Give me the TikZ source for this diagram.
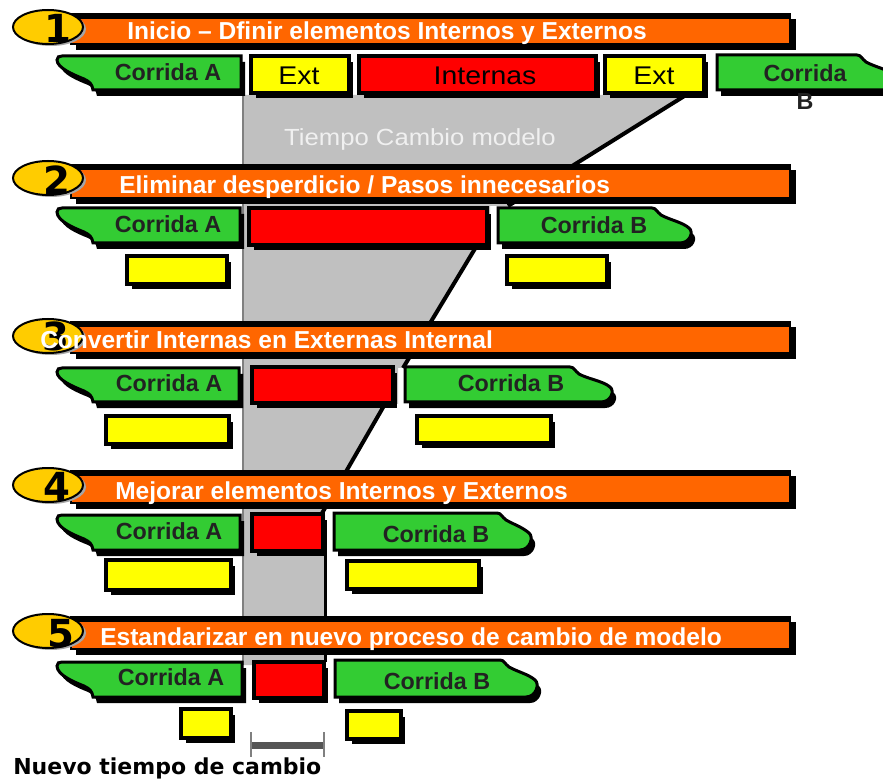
\documentclass[tikz,border=0pt]{standalone}
\usepackage{fontspec}
\setmainfont{Liberation Sans}
\newfontfamily\dvs{DejaVu Sans}
\definecolor{org}{HTML}{FF6600}
\definecolor{grn}{HTML}{33CC33}
\definecolor{yel}{HTML}{FFFF00}
\definecolor{rd}{HTML}{FF0000}
\definecolor{gld}{HTML}{FFCC00}
\definecolor{gry}{HTML}{C0C0C0}
\definecolor{gedge}{HTML}{808080}
\definecolor{txtd}{HTML}{222222}
\definecolor{brk}{HTML}{555555}
\tikzset{
 ttl/.style={anchor=base west, text=white, font=\fontsize{18.4}{22}\selectfont\bfseries, inner sep=0pt},
 cor/.style={anchor=base, text=txtd, font=\fontsize{17.5}{21}\selectfont\bfseries, inner sep=0pt},
 extt/.style={anchor=base, text=black, font=\fontsize{19.2}{23}\selectfont, inner sep=0pt},
 num/.style={anchor=base, text=black, font=\dvs\fontsize{29}{30}\selectfont\bfseries, inner sep=0pt},
 badge/.style={fill=gld, draw=black, line width=1.5pt},
 outl/.style={draw=black, line width=2.25pt},
 diag/.style={black, line width=3pt},
}
% Corrida A path: right, top, bottom
\newcommand\dgcorApath[3]{(62,#2) -- (#1,#2) -- (#1,#3) -- (93,#3) .. controls (92,#3-6) and (90,#3-8) .. (84,#3-11) .. controls (74,#3-15) and (57,#3-22) .. (57,#2+4) .. controls (57,#2+1) and (59,#2) .. (62,#2) -- cycle}
\newcommand\dgcorA[3]{%
 \fill[black,shift={(4,6)}] \dgcorApath{#1}{#2}{#3};
 \filldraw[fill=grn,outl] \dgcorApath{#1}{#2}{#3};
}
% Corrida B path: left, notch, top, bottom, tip offset
\newcommand\dgcorBpath[5]{(#1,#3) -- (#2,#3) .. controls (#2+4,#3) and (#2+5,#3+4) .. (#2+9,#3+7) .. controls (#2+18,#3+12) and (#2+#5-10,#3+14) .. (#2+#5-3,#3+20) .. controls (#2+#5+2,#3+24) and (#2+#5-2,#4) .. (#2+#5-12,#4) -- (#1,#4) -- cycle}
\newcommand\dgcorB[5]{%
 \fill[black,shift={(4,6)}] \dgcorBpath{#1}{#2}{#3}{#4}{#5};
 \filldraw[fill=grn,outl] \dgcorBpath{#1}{#2}{#3}{#4}{#5};
}
% box: colour, x1,y1,x2,y2
\newcommand\dgbox[5]{%
 \fill[black] (#2+4,#3+5) rectangle (#4+5,#5+6);
 \filldraw[fill=#1,draw=black,line width=3pt] (#2-1,#3-1) rectangle (#4+1,#5+1);
}
% bar: top, bottom
\newcommand\dgbar[2]{%
 \fill[black] (70,#1-6) rectangle (791,#2+2);
 \fill[black] (76,#1) rectangle (796,#2+7);
 \fill[org] (72,#1) rectangle (789,#2);
}
% badge: centre y
\newcommand\dgbadge[1]{%
 \fill[gray!70,shift={(3,2)}] (48,#1) ellipse [x radius=35, y radius=17];
 \filldraw[badge] (48,#1) ellipse [x radius=35, y radius=17];
}
\begin{document}
\begin{tikzpicture}[x=0.75pt,y=-0.75pt]
\useasboundingbox (0,0) rectangle (883,781);
\clip (0,0) rectangle (883,781);

% grey change-over area
\fill[gry] (243,95) -- (686,95) -- (508,206) -- (490,206) -- (490,247) -- (476,247) -- (403,368) -- (398,368) -- (398,404) -- (385,404) -- (321,515) -- (325,515) -- (325,665) -- (243,665) -- cycle;
\coordinate (ga) at (243,95);
\coordinate (gb) at (243,665);
\draw[gedge, line width=1.5pt] (ga) -- (gb);
\coordinate (d1a) at (686,95);  \coordinate (d1b) at (508,206);
\coordinate (d2a) at (476,247); \coordinate (d2b) at (403,368);
\coordinate (d3a) at (385,404); \coordinate (d3b) at (321,515);
\coordinate (d4a) at (325,552); \coordinate (d4b) at (325,662);
\draw[diag] (d1a) -- (d1b);
\draw[diag] (d2a) -- (d2b);
\draw[diag] (d3a) -- (d3b);
\draw[black, line width=2.25pt] (d4a) -- (d4b);
\node[anchor=base, text=white!94!black, inner sep=0pt, font=\fontsize{17.5}{21}\selectfont] (tcm) at (420,146) {\scalebox{1.1}[1]{Tiempo Cambio modelo}};

% bars
\dgbar{19}{43}
\dgbar{170}{197}
\dgbar{327}{352}
\dgbar{476}{502}
\dgbar{622}{648}

% badges and numbers
\dgbadge{27}   \node[num] (n1) at (58,43) {1};
\dgbadge{178}  \node[num] (n2) at (57,195) {2};
\dgbadge{336}  \node[num] (n3) at (56,350) {3};
\dgbadge{485}  \node[num] (n4) at (57,500) {4};
\dgbadge{631}  \node[num] (n5) at (61,647) {5};

% titles
\node[ttl] (t1) at (127,40) {Inicio – Dfinir elementos Internos y Externos};
\node[ttl] (t2) at (119,194) {Eliminar desperdicio / Pasos innecesarios};
\node[ttl] (t3) at (40,349) {Convertir Internas en Externas Internal};
\node[ttl] (t4) at (115,499) {Mejorar elementos Internos y Externos};
\node[ttl] (t5) at (100,645) {Estandarizar en nuevo proceso de cambio de modelo};

% row 1
\dgcorA{241}{56}{90}
\dgbox{yel}{252}{57}{348}{92}
\dgbox{rd}{360}{57}{595}{92}
\dgbox{yel}{606}{57}{703}{92}
\dgcorB{717}{857}{55}{90}{40}
\node[cor] (a1) at (168,81) {Corrida A};
\node[extt] (e1) at (299,85) {\scalebox{1.11}[1]{Ext}};
\node[extt] (i1) at (485,85) {\scalebox{1.11}[1]{Internas}};
\node[extt] (e2) at (654,85) {\scalebox{1.11}[1]{Ext}};
\node[cor] (b1a) at (805,82) {Corrida};
\node[cor] (b1b) at (805,110) {B};

% row 2
\dgcorA{240}{208}{243}
\dgbox{rd}{250}{209}{486}{244}
\dgcorB{498}{652}{208}{243}{40}
\dgbox{yel}{128}{257}{226}{283}
\dgbox{yel}{508}{257}{606}{283}
\node[cor] (a2) at (168,233) {Corrida A};
\node[cor] (b2) at (594,234) {Corrida B};

% row 3
\dgcorA{239}{368}{402}
\dgbox{rd}{253}{368}{392}{402}
\dgcorB{405}{570}{367}{402}{43}
\dgbox{yel}{107}{417}{228}{443}
\dgbox{yel}{418}{417}{550}{442}
\node[cor] (a3) at (169,392) {Corrida A};
\node[cor] (b3) at (511,392) {Corrida B};

% row 4
\dgcorA{240}{515}{550}
\dgbox{rd}{253}{515}{322}{550}
\dgcorB{334}{497}{513}{550}{35}
\dgbox{yel}{107}{561}{230}{589}
\dgbox{yel}{348}{562}{478}{588}
\node[cor] (a4) at (169,539) {Corrida A};
\node[cor] (b4) at (436,542) {Corrida B};

% row 5
\dgcorA{242}{662}{697}
\dgbox{rd}{255}{663}{323}{697}
\dgcorB{335}{500}{660}{697}{38}
\dgbox{yel}{182}{710}{230}{737}
\dgbox{yel}{348}{712}{400}{738}
\node[cor] (a5) at (171,685) {Corrida A};
\node[cor] (b5) at (437,689) {Corrida B};

% bracket
\coordinate (k1) at (251,745);
\coordinate (k2) at (324,745);
\draw[brk, line width=5.25pt] (k1) -- (k2);
\draw[gray, line width=1.2pt] (251,732) -- (251,757);
\draw[gray, line width=1.2pt] (324,732) -- (324,757);
\node[anchor=base west, inner sep=0pt, text=black, font=\dvs\fontsize{16.5}{20}\selectfont\bfseries] (nt) at (13,774) {Nuevo tiempo de cambio};
\end{tikzpicture}
\end{document}
